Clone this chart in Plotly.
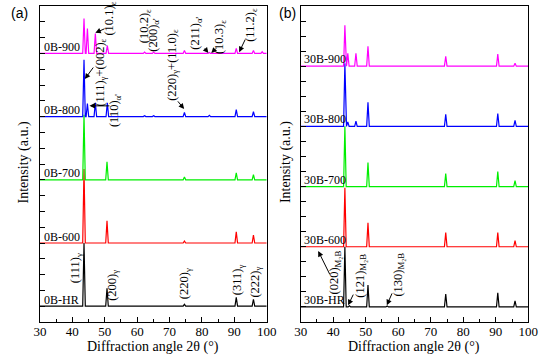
import plotly.graph_objects as go

# ---------------- data ----------------
two_theta_range = [30, 100]
x_ticks = [30, 40, 50, 60, 70, 80, 90, 100]

samples_a = ["0B-HR", "0B-600", "0B-700", "0B-800", "0B-900"]
samples_b = ["30B-HR", "30B-600", "30B-700", "30B-800", "30B-900"]
colors = ["#000000", "#ff0000", "#00ee00", "#0000ff", "#ff00ff"]
offsets = [5, 25, 45, 65, 85]          # vertical stacking offsets (a.u.)

# panel (a): peak positions (2θ, °) and heights (a.u.)
pos_0B_HR = [43.6, 50.7, 74.6, 90.6, 95.9]
int_0B_HR = [20.0, 5.7, 0.6, 2.8, 2.2]
pos_0B_600 = [43.6, 50.7, 74.6, 90.6, 95.9]
int_0B_600 = [23.4, 7.0, 0.6, 3.5, 2.5]
pos_0B_700 = [43.6, 50.7, 74.6, 90.6, 95.9]
int_0B_700 = [20.6, 5.7, 0.9, 2.2, 1.6]
pos_0B_800 = [43.6, 44.65, 47.1, 50.8, 62.3, 65.1, 74.6, 82.3, 90.6, 95.9]
int_0B_800 = [18.0, 4.1, 4.4, 4.4, 0.3, 0.3, 1.3, 0.4, 2.2, 1.6]
pos_0B_900 = [43.6, 44.65, 47.1, 50.8, 62.3, 65.1, 74.6, 82.3, 90.6, 95.9, 98.6]
int_0B_900 = [11.0, 7.9, 6.3, 2.5, 0.4, 0.4, 0.9, 0.3, 1.6, 0.9, 0.5]

# panel (b)
pos_30B_HR = [43.6, 45.0, 50.7, 56.6, 74.6, 90.6, 95.9]
int_30B_HR = [20.0, 0.4, 7.3, 0.3, 4.3, 4.7, 2.0]
pos_30B_600 = [43.6, 50.7, 74.6, 90.6, 95.9]
int_30B_600 = [19.6, 8.0, 4.7, 4.7, 2.0]
pos_30B_700 = [43.6, 50.7, 74.6, 90.6, 95.9]
int_30B_700 = [20.0, 8.0, 4.3, 5.0, 2.0]
pos_30B_800 = [43.6, 44.5, 47.0, 50.7, 74.6, 90.6, 95.9]
int_30B_800 = [21.0, 1.5, 1.7, 8.0, 4.0, 4.3, 2.0]
pos_30B_900 = [43.6, 44.5, 47.0, 50.7, 74.6, 90.6, 95.9]
int_30B_900 = [13.6, 4.3, 4.3, 6.6, 3.3, 4.0, 1.0]

peaks_a = [(pos_0B_HR, int_0B_HR), (pos_0B_600, int_0B_600), (pos_0B_700, int_0B_700),
           (pos_0B_800, int_0B_800), (pos_0B_900, int_0B_900)]
peaks_b = [(pos_30B_HR, int_30B_HR), (pos_30B_600, int_30B_600), (pos_30B_700, int_30B_700),
           (pos_30B_800, int_30B_800), (pos_30B_900, int_30B_900)]

SERIF = "Liberation Serif"
SANS = "Liberation Sans"
HW = 0.4  # half width of a peak foot (°)


def pattern(pos, hts, base):
    xs, ys = [two_theta_range[0]], [base]
    for p, h in zip(pos, hts):
        xs += [p - HW, p, p + HW]
        ys += [base, base + h, base]
    xs.append(two_theta_range[1])
    ys.append(base)
    return xs, ys


fig = go.Figure()
for (pk, xa, ya) in [(peaks_a, "x", "y"), (peaks_b, "x2", "y2")]:
    for (pos, hts), col, base in zip(pk, colors, offsets):
        xs, ys = pattern(pos, hts, base)
        fig.add_trace(go.Scatter(x=xs, y=ys, mode="lines", xaxis=xa, yaxis=ya,
                                 line=dict(color=col, width=1.2), showlegend=False,
                                 hoverinfo="skip"))

ann = []
# sample labels
for name, base in zip(samples_a, offsets):
    ann.append(dict(x=30.5, y=base + 2.0, xref="x", yref="y", text=name, showarrow=False,
                    xanchor="left", yanchor="middle", font=dict(family=SERIF, size=12, color="black")))
for name, base in zip(samples_b, offsets):
    ann.append(dict(x=30.4, y=base + 2.3, xref="x2", yref="y2", text=name, showarrow=False,
                    xanchor="left", yanchor="middle", font=dict(family=SERIF, size=12, color="black")))

# rotated peak labels: (text, x, y, axis)
labels = [
    ("(10.1)<sub>ε</sub>", 51.6, 96.0, "a"),
    ("(111)<sub>γ</sub>+(002)<sub>ε</sub>", 48.9, 79.0, "a"),
    ("(110)<sub>α'</sub>", 53.4, 67.0, "a"),
    ("(10.2)<sub>ε</sub>", 62.3, 93.5, "a"),
    ("(200)<sub>α'</sub>", 65.3, 91.0, "a"),
    ("(220)<sub>γ</sub>+(11.0)<sub>ε</sub>", 71.0, 81.3, "a"),
    ("(211)<sub>α'</sub>", 78.1, 91.5, "a"),
    ("(10.3)<sub>ε</sub>", 85.6, 90.2, "a"),
    ("(11.2)<sub>ε</sub>", 95.1, 94.0, "a"),
    ("(111)<sub>γ</sub>", 41.2, 17.1, "a"),
    ("(200)<sub>γ</sub>", 52.5, 11.7, "a"),
    ("(220)<sub>γ</sub>", 74.8, 12.0, "a"),
    ("(311)<sub>γ</sub>", 91.2, 13.3, "a"),
    ("(222)<sub>γ</sub>", 96.6, 12.7, "a"),
    ("(020)<sub>M₂B</sub>", 40.7, 16.6, "b"),
    ("(121)<sub>M₂B</sub>", 48.5, 15.3, "b"),
    ("(130)<sub>M₂B</sub>", 60.1, 15.6, "b"),
]
for t, x, y, p in labels:
    xr, yr = ("x", "y") if p == "a" else ("x2", "y2")
    ann.append(dict(x=x, y=y, xref=xr, yref=yr, text=t, showarrow=False, textangle=-90,
                    xanchor="center", yanchor="middle",
                    font=dict(family=SERIF, size=12.5, color="black")))

# arrows: (head x, head y, tail x, tail y, axis)
arrows = [
    (47.1, 91.5, 50.4, 93.0, "a"),
    (43.85, 76.9, 46.8, 81.0, "a"),
    (45.3, 68.4, 51.9, 68.4, "a"),
    (74.5, 67.4, 72.2, 70.3, "a"),
    (82.0, 85.1, 80.5, 87.0, "a"),
    (82.9, 85.1, 84.7, 87.0, "a"),
    (91.5, 85.4, 93.6, 89.9, "a"),
    (35.4, 23.6, 39.2, 15.3, "b"),
    (44.6, 5.6, 46.4, 9.6, "b"),
    (56.5, 5.6, 58.3, 10.0, "b"),
]
for hx, hy, tx, ty, p in arrows:
    xr, yr = ("x", "y") if p == "a" else ("x2", "y2")
    ann.append(dict(x=hx, y=hy, ax=tx, ay=ty, xref=xr, yref=yr, axref=xr, ayref=yr,
                    text="", showarrow=True, arrowhead=2, arrowsize=1.1, arrowwidth=1,
                    arrowcolor="black", standoff=0, startstandoff=0))

# panel letters and axis titles
for txt, xc in [("(a)", 13), ("(b)", 289)]:
    ann.append(dict(x=xc / 550, y=1 - 13 / 358, xref="paper", yref="paper", text=txt, showarrow=False,
                    xanchor="center", yanchor="middle",
                    font=dict(family=SANS, size=14, color="black")))
for xc in [18, 288]:
    ann.append(dict(x=xc / 550, y=1 - 162 / 358, xref="paper", yref="paper", text="Intensity (a.u.)",
                    showarrow=False, textangle=-90, xanchor="center", yanchor="middle",
                    font=dict(family=SERIF, size=14, color="black")))
for xc in [151, 420]:
    ann.append(dict(x=xc / 550, y=1 - 347 / 358, xref="paper", yref="paper",
                    text="Diffraction angle 2θ (°)", showarrow=False,
                    xanchor="center", yanchor="middle",
                    font=dict(family=SERIF, size=14, color="black")))

xaxis_common = dict(range=two_theta_range, tickvals=x_ticks, ticks="inside", ticklen=5,
                    tickwidth=1, tickcolor="black", showline=True, linecolor="black", linewidth=1,
                    mirror=True, showgrid=False, zeroline=False, ticklabelstandoff=-3,
                    tickfont=dict(family=SERIF, size=13, color="black"),
                    minor=dict(dtick=5, ticks="inside", ticklen=3, tickcolor="black", showgrid=False))
yaxis_common = dict(ticks="inside", ticklen=5, tickwidth=1, tickcolor="black", dtick=5, tick0=0,
                    showticklabels=False, showline=True, linecolor="black", linewidth=1,
                    mirror=True, showgrid=False, zeroline=False)

ytop = 1 - 6 / 358
ybot = 1 - 322 / 358
fig.update_layout(
    width=550, height=358, margin=dict(l=0, r=0, t=0, b=0),
    paper_bgcolor="white", plot_bgcolor="white",
    xaxis=dict(domain=[34 / 550, 268 / 550], anchor="y", **xaxis_common),
    xaxis2=dict(domain=[303 / 550, 538 / 550], anchor="y2", **xaxis_common),
    yaxis=dict(domain=[ybot, ytop], range=[0, 100], anchor="x", **yaxis_common),
    yaxis2=dict(domain=[ybot, ytop], range=[0, 105], anchor="x2", **yaxis_common),
    annotations=ann,
)

fig.write_html("out.html", config={"displayModeBar": False},
               post_script="document.body.style.margin='0px';")
